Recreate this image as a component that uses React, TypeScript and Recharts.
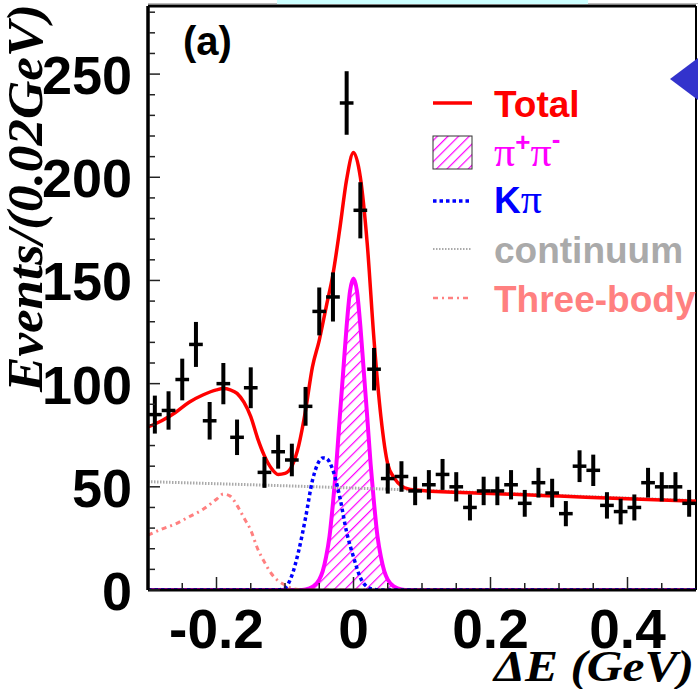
import React from 'react';
import { ComposedChart, Line, Area, Scatter, ErrorBar, XAxis, YAxis, ReferenceLine } from 'recharts';

// Measured points: bin centres (0.02 GeV bins), counts and their vertical errors
const pointX = [
  -0.29, -0.27, -0.25, -0.23, -0.21, -0.19, -0.17, -0.15, -0.13, -0.11,
  -0.09, -0.07, -0.05, -0.03, -0.01, 0.01, 0.03, 0.05, 0.07, 0.09,
  0.11, 0.13, 0.15, 0.17, 0.19, 0.21, 0.23, 0.25, 0.27, 0.29,
  0.31, 0.33, 0.35, 0.37, 0.39, 0.41, 0.43, 0.45, 0.47, 0.49,
];
const pointY = [
  85, 87, 102, 119, 82, 100, 74, 98, 57, 67,
  63, 89, 135, 142, 236, 184, 107, 54, 55, 48,
  51, 56, 50, 40, 48, 48, 51, 42, 52, 47,
  37, 60, 58, 41, 38, 40, 52, 50, 50, 42,
];
const pointErr = [
  9.2, 9.3, 10.1, 10.9, 9.1, 10, 8.6, 9.9, 7.5, 8.2,
  7.9, 9.4, 11.6, 11.9, 15.4, 13.6, 10.3, 7.3, 7.4, 6.9,
  7.1, 7.5, 7.1, 6.3, 6.9, 6.9, 7.1, 6.5, 7.2, 6.9,
  6.1, 7.7, 7.6, 6.4, 6.2, 6.3, 7.2, 7.1, 7.1, 6.5,
];
const binHalfWidth = 0.01;

// Fit components
const totalX = [
  -0.3, -0.28, -0.26, -0.24, -0.22, -0.2, -0.19, -0.18, -0.17, -0.16, -0.15, -0.14, -0.13, -0.12,
  -0.11, -0.1, -0.09, -0.08, -0.07, -0.06, -0.05, -0.04, -0.03, -0.02, -0.01, 0, 0.01, 0.02,
  0.03, 0.04, 0.05, 0.06, 0.07, 0.08, 0.1, 0.2, 0.3, 0.4, 0.5,
];
const totalY = [
  79, 82, 86, 91, 94.5, 97, 97.6, 97, 95.3, 91, 84, 73.5, 65, 59,
  56, 56.5, 60, 70, 87, 108, 121, 137, 153, 175, 199, 212, 200, 168,
  121, 84, 61, 54, 50.5, 49, 48.2, 46.8, 45.5, 44.2, 43,
];

const pipiX = [
  -0.3, -0.08, -0.07, -0.06, -0.05, -0.045, -0.04, -0.035, -0.03, -0.025, -0.02, -0.015, -0.01, -0.005,
  0, 0.005, 0.01, 0.015, 0.02, 0.025, 0.03, 0.035, 0.04, 0.045, 0.05, 0.06, 0.07, 0.08, 0.5,
];
const pipiY = [
  0, 0, 0.3, 1.5, 5, 9, 16, 26, 42, 61, 84, 106, 128, 145,
  151, 145, 128, 106, 84, 61, 42, 26, 16, 9, 5, 1.5, 0.3, 0, 0,
];

const kpiX = [-0.3, -0.11, -0.1, -0.09, -0.08, -0.07, -0.06, -0.05, -0.045, -0.04, -0.03, -0.02, -0.01, 0, 0.01, 0.02, 0.03, 0.04, 0.5];
const kpiY = [0, 0, 1, 7, 19, 35, 53, 62.5, 64, 63.8, 58, 45, 28, 16, 6, 1.5, 0.3, 0, 0];

const contX = [-0.3, -0.1, 0.1, 0.3, 0.5];
const contY = [52.5, 50.5, 48.3, 45.8, 43.3];

const threeX = [
  -0.3, -0.28, -0.26, -0.24, -0.22, -0.2, -0.19, -0.18, -0.17, -0.16, -0.15, -0.14, -0.13, -0.12,
  -0.11, -0.1, -0.09, -0.08, -0.07, 0.5,
];
const threeY = [
  26.6, 29.5, 32, 35.5, 39, 44, 46.5, 45.5, 41, 35, 29, 20, 13.5, 8,
  4.5, 2.4, 0.8, 0.2, 0, 0,
];

const xTicks = [-0.25, -0.2, -0.15, -0.1, -0.05, 0, 0.05, 0.1, 0.15, 0.2, 0.25, 0.3, 0.35, 0.4, 0.45];
const xMajor = [-0.2, 0, 0.2, 0.4];
const yTicks = [
  0, 10, 20, 30, 40, 50, 60, 70, 80, 90, 100, 110, 120, 130, 140,
  150, 160, 170, 180, 190, 200, 210, 220, 230, 240, 250, 260, 270, 280,
];
const yMajor = [0, 50, 100, 150, 200, 250];

const SANS = '"Liberation Sans", Arial, Helvetica, sans-serif';
const SERIF = '"Liberation Serif", "Times New Roman", serif';

const series = (xs: number[], ys: number[]) => xs.map((x, i) => ({ x, y: ys[i] }));

const points = pointX.map((x, i) => ({ x, y: pointY[i], ey: pointErr[i], ex: binHalfWidth }));
const totalData = series(totalX, totalY);
const pipiData = series(pipiX, pipiY);
const kpiData = series(kpiX, kpiY);
const contData = series(contX, contY);
const threeData = series(threeX, threeY);

// diagonal "/" hatch in magenta
const Hatch = ({ id }: { id: string }) => (
  <pattern id={id} patternUnits="userSpaceOnUse" width={7.5} height={10} patternTransform="rotate(45)">
    <rect x={0} y={0} width={1.2} height={10} fill="#ff00ff" />
  </pattern>
);

const XTick = (props: any) => {
  const { x, y, payload } = props;
  const v = payload.value as number;
  const major = xMajor.some((m) => Math.abs(m - v) < 1e-6);
  return (
    <g>
      <line x1={x} x2={x} y1={y - 1} y2={y - (major ? 13 : 7)} stroke="#222" strokeWidth={1.5} />
      {major && (
        <text x={x} y={y + 58} textAnchor="middle" fontFamily={SANS} fontWeight="bold" fontSize={55} fill="#000">
          {String(v)}
        </text>
      )}
    </g>
  );
};

const YTick = (props: any) => {
  const { x, y, payload } = props;
  const v = payload.value as number;
  const major = yMajor.includes(v);
  return (
    <g>
      <line x1={x + 1} x2={x + (major ? 12 : 7)} y1={y} y2={y} stroke="#222" strokeWidth={1.5} />
      {major && (
        <text x={x - 16} y={y + 20} textAnchor="end" fontFamily={SANS} fontWeight="bold" fontSize={54} fill="#000">
          {v}
        </text>
      )}
    </g>
  );
};

const Overlay = () => (
  <svg width={698} height={689} style={{ position: 'absolute', left: 0, top: 0, pointerEvents: 'none' }}>
    <defs>
      <Hatch id="hatchLegend" />
    </defs>
    {/* bits of the neighbouring panel */}
    <line x1={148} x2={698} y1={3.5} y2={3.5} stroke="#bbb" strokeWidth={1} />
    <rect x={277} y={0} width={311} height={4} fill="#ccffff" />
    <polygon points="670,79 698,58 698,100" fill="#3333cc" />

    <text x={183} y={55} fontFamily={SANS} fontWeight="bold" fontSize={40} fill="#000">(a)</text>

    {/* legend */}
    <line x1={433} x2={472} y1={103} y2={103} stroke="#ff0000" strokeWidth={3.5} />
    <text x={494} y={117} fontFamily={SANS} fontWeight="bold" fontSize={37} fill="#ff0000">Total</text>

    <rect x={433} y={136} width={39} height={33} fill="url(#hatchLegend)" stroke="#333" strokeWidth={1} />
    <text x={494} y={166} fill="#ff00ff">
      <tspan fontFamily={SERIF} fontSize={42}>π</tspan>
      <tspan fontFamily={SANS} fontWeight="bold" fontSize={26} dy={-15}>+</tspan>
      <tspan fontFamily={SERIF} fontSize={42} dy={15}>π</tspan>
      <tspan fontFamily={SANS} fontWeight="bold" fontSize={26} dy={-18}>-</tspan>
    </text>

    <line x1={433} x2={472} y1={201} y2={201} stroke="#0000ff" strokeWidth={3.5} strokeDasharray="3.5 3" />
    <text x={494} y={213} fill="#0000ff">
      <tspan fontFamily={SANS} fontWeight="bold" fontSize={37}>K</tspan>
      <tspan fontFamily={SERIF} fontSize={42}>π</tspan>
    </text>

    <line x1={433} x2={472} y1={249} y2={249} stroke="#aaaaaa" strokeWidth={2} strokeDasharray="1.5 1.5" />
    <text x={494} y={263} fontFamily={SANS} fontWeight="bold" fontSize={37} fill="#aaaaaa">continuum</text>

    <line x1={433} x2={472} y1={298} y2={298} stroke="#ff8080" strokeWidth={2.5} strokeDasharray="5 4 2 4" />
    <text x={494} y={312} fontFamily={SANS} fontWeight="bold" fontSize={37} fill="#ff8080">Three-body</text>

    {/* axis titles */}
    <text
      x={694}
      y={681}
      textAnchor="end"
      fontFamily={SERIF}
      fontStyle="italic"
      fontWeight="bold"
      fontSize={45}
      textLength={200}
      lengthAdjust="spacingAndGlyphs"
      fill="#000"
    >
      ΔE (GeV)
    </text>
    <text
      transform="translate(42,392) rotate(-90)"
      fontFamily={SERIF}
      fontStyle="italic"
      fontWeight="bold"
      fontSize={50}
      textLength={388}
      lengthAdjust="spacingAndGlyphs"
      fill="#000"
    >
      Events/(0.02GeV)
    </text>
  </svg>
);

export default function App() {
  return (
    <div style={{ position: 'absolute', left: 0, top: 0, width: 698, height: 689, background: '#fff' }}>
      <ComposedChart width={698} height={689} margin={{ top: 6, right: 2, bottom: 0, left: 0 }}>
        <defs>
          <Hatch id="hatchArea" />
        </defs>
        <XAxis
          dataKey="x"
          type="number"
          domain={[-0.3, 0.5]}
          allowDataOverflow
          ticks={xTicks}
          interval={0}
          height={99}
          tickSize={0}
          tickMargin={0}
          tickLine={false}
          axisLine={{ stroke: '#000', strokeWidth: 3 }}
          tick={<XTick />}
        />
        <YAxis
          type="number"
          domain={[0, 283]}
          allowDataOverflow
          ticks={yTicks}
          interval={0}
          width={148}
          tickSize={0}
          tickMargin={0}
          tickLine={false}
          axisLine={{ stroke: '#000', strokeWidth: 3.5 }}
          tick={<YTick />}
        />
        <ReferenceLine y={283} stroke="#000" strokeWidth={3} />
        <ReferenceLine x={0.5} stroke="#000" strokeWidth={2} />

        <Area
          data={pipiData}
          dataKey="y"
          type="monotone"
          stroke="#ff00ff"
          strokeWidth={4}
          fill="url(#hatchArea)"
          fillOpacity={1}
          isAnimationActive={false}
        />
        <Line data={contData} dataKey="y" type="linear" stroke="#aaaaaa" strokeWidth={3} strokeDasharray="1.5 1.5" dot={false} isAnimationActive={false} />
        <Line data={threeData} dataKey="y" type="monotone" stroke="#ff8080" strokeWidth={3} strokeDasharray="5 4 2 4" dot={false} isAnimationActive={false} />
        <Line data={kpiData} dataKey="y" type="monotone" stroke="#0000ff" strokeWidth={3.5} strokeDasharray="3.5 3" dot={false} isAnimationActive={false} />
        <Line data={totalData} dataKey="y" type="monotone" stroke="#ff0000" strokeWidth={3.5} dot={false} isAnimationActive={false} />
        <Scatter data={points} dataKey="y" shape={() => <g />} isAnimationActive={false}>
          <ErrorBar dataKey="ey" direction="y" width={0} stroke="#000" strokeWidth={4} />
          <ErrorBar dataKey="ex" direction="x" width={0} stroke="#000" strokeWidth={3.5} />
        </Scatter>
      </ComposedChart>
      <Overlay />
    </div>
  );
}
